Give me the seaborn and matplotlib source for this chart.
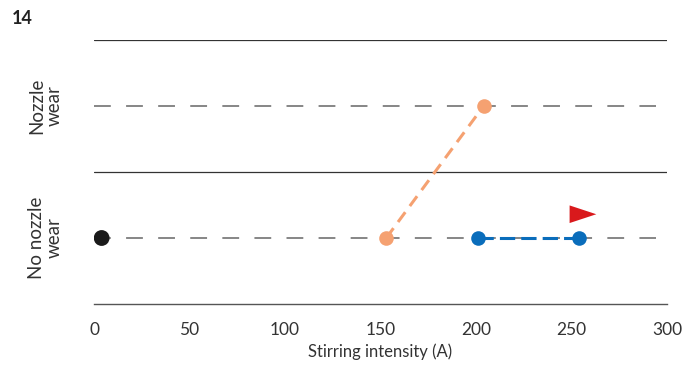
import matplotlib
matplotlib.use("Agg")
import matplotlib.pyplot as plt
import seaborn as sns
import pandas as pd

# Data
categories = ["No nozzle\nwear", "Nozzle\nwear"]
x_ticks = [0, 50, 100, 150, 200, 250, 300]
black_x = [4]
black_y = [0]
orange_x = [153, 204]
orange_y = [0, 1]
blue_x = [201, 254]
blue_y = [0, 0]
flag_x = [256]
flag_y = [0.18]

sns.set_style("white")
plt.rcParams['font.family'] = ['Lato', 'DejaVu Sans']

fig = plt.figure(figsize=(6.84, 3.73), dpi=100)
ax = fig.add_axes([94/684, 1-304/373, (667-94)/684, (304-40)/373])

# category reference lines
for i in range(len(categories)):
    ax.plot([0, 294], [i, i], color="#666666", lw=1.1, ls=(0, (11, 10)), zorder=1)
    ax.plot([0, 300], [i + 0.5, i + 0.5], color="#333333", lw=0.9, zorder=1)

df_orange = pd.DataFrame({"x": orange_x, "y": orange_y})
df_blue = pd.DataFrame({"x": blue_x, "y": blue_y})
df_black = pd.DataFrame({"x": black_x, "y": black_y})
df_flag = pd.DataFrame({"x": flag_x, "y": flag_y})

sns.lineplot(data=df_orange, x="x", y="y", ax=ax, color="#F5A171", lw=2.2,
             linestyle=(0, (4, 2.5)), marker="o", markersize=10.5,
             markeredgewidth=0, zorder=3)
sns.lineplot(data=df_blue, x="x", y="y", ax=ax, color="#0A6DBB", lw=2.2,
             linestyle=(0, (5, 2)), marker="o", markersize=10.5,
             markeredgewidth=0, zorder=3)
sns.scatterplot(data=df_black, x="x", y="y", ax=ax, color="#1a1a1a", s=130,
                edgecolor="none", zorder=4)
tri = [(-1, -0.66), (1, 0), (-1, 0.66), (-1, -0.66)]
sns.scatterplot(data=df_flag, x="x", y="y", ax=ax, color="#D9191C", s=370,
                marker=tri, edgecolor="none", zorder=4)

ax.set_xlim(0, 300)
ax.set_ylim(-0.5, 1.5)
ax.set_xticks(x_ticks)
ax.set_xticklabels([str(t) for t in x_ticks], fontsize=12.5, color="#333333")
ax.set_yticks([0, 1])
ax.set_yticklabels(categories, rotation=90, va="center", ha="center",
                   fontsize=13.5, color="#333333", multialignment="center",
                   linespacing=1.05)
ax.tick_params(axis="y", length=0, pad=35)
ax.tick_params(axis="x", length=7, width=1, color="#555555", direction="out", pad=6)
ax.set_xlabel("Stirring intensity (A)", fontsize=12, color="#333333", labelpad=4)
ax.set_ylabel("")
for s in ["top", "right", "left"]:
    ax.spines[s].set_visible(False)
ax.spines["bottom"].set_color("#555555")
ax.spines["bottom"].set_linewidth(1.0)
ax.spines["bottom"].set_bounds(0, 300)
if ax.get_legend():
    ax.get_legend().remove()

fig.text(12/684, 1-18/373, "14", fontsize=13, fontweight="bold", color="#222222",
         va="center", ha="left")

fig.savefig("out.png", dpi=100)
